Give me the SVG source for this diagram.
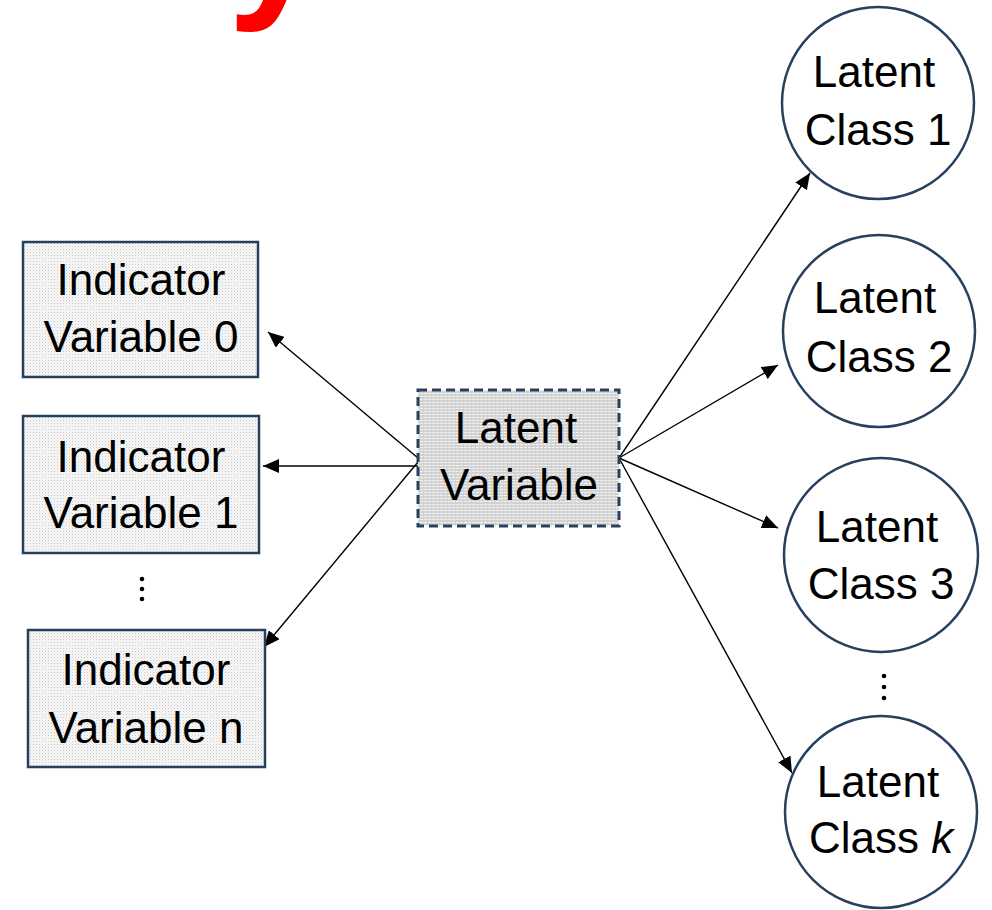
<svg xmlns="http://www.w3.org/2000/svg" width="992" height="910" viewBox="0 0 992 910">
<defs>
<pattern id="dots" width="3" height="3" patternUnits="userSpaceOnUse">
<rect width="3" height="3" fill="#f8f8f8"/>
<rect x="0" y="0" width="1" height="1" fill="#c8c8c8"/>
<rect x="1.5" y="1.5" width="1" height="1" fill="#dcdcdc"/>
</pattern>
<pattern id="grid" width="4" height="3" patternUnits="userSpaceOnUse">
<rect width="4" height="3" fill="#d2d2d2"/>
<rect x="0" y="0" width="3" height="1" fill="#f2f2f2"/>
</pattern>
<marker id="arr" markerUnits="userSpaceOnUse" markerWidth="18" markerHeight="14" refX="16" refY="7" orient="auto">
<path d="M0,0 L16,7 L0,14 Z" fill="#000"/>
</marker>
<style>
.t{font-family:"Liberation Sans",Arial,sans-serif;font-size:44px;fill:#000;text-anchor:middle}
.box{fill:url(#dots);stroke:#27405e;stroke-width:2.5}
.lv{fill:url(#grid);stroke:#27405e;stroke-width:3;stroke-dasharray:9 5}
.cls{fill:#fff;stroke:#27405e;stroke-width:2.5}
.c{stroke:#000;stroke-width:1.4;fill:none;marker-end:url(#arr)}
.dot{fill:#000}
</style>
</defs>
<rect width="992" height="910" fill="#fff"/>
<text x="-153 -27 80 177 228 314 411 446" y="-3" style="font-family:'Liberation Sans',Arial,sans-serif;font-size:170px;font-weight:bold;fill:#ff0000">Analysis</text>

<g id="connectors">
<line class="c" x1="418" y1="458" x2="268" y2="332"/>
<line class="c" x1="418" y1="466" x2="263" y2="466"/>
<line class="c" x1="418" y1="462" x2="264" y2="647"/>
<line class="c" x1="619" y1="458" x2="810" y2="173"/>
<line class="c" x1="619" y1="458" x2="778" y2="365"/>
<line class="c" x1="619" y1="458" x2="778" y2="528"/>
<line class="c" x1="619" y1="458" x2="792" y2="773"/>
</g>

<g id="ind0">
<rect class="box" x="23" y="242" width="235" height="135"/>
<text class="t" x="141" y="295">Indicator</text>
<text class="t" x="141" y="352">Variable 0</text>
</g>
<g id="ind1">
<rect class="box" x="23" y="416" width="236" height="137"/>
<text class="t" x="141" y="472">Indicator</text>
<text class="t" x="141" y="528">Variable 1</text>
</g>
<g id="dotsL">
<circle class="dot" cx="142" cy="579" r="2.3"/>
<circle class="dot" cx="142" cy="589" r="2.3"/>
<circle class="dot" cx="142" cy="599" r="2.3"/>
</g>
<g id="indn">
<rect class="box" x="28" y="630" width="237" height="137"/>
<text class="t" x="146" y="685">Indicator</text>
<text class="t" x="146" y="743">Variable n</text>
</g>

<g id="latent">
<rect class="lv" x="418" y="390" width="201" height="136"/>
<text class="t" x="516" y="443">Latent</text>
<text class="t" x="519" y="500">Variable</text>
</g>

<g id="class1">
<circle class="cls" cx="878" cy="103" r="96"/>
<text class="t" x="874" y="87">Latent</text>
<text class="t" x="878" y="145">Class 1</text>
</g>
<g id="class2">
<circle class="cls" cx="879" cy="331" r="96"/>
<text class="t" x="875" y="313">Latent</text>
<text class="t" x="879" y="372">Class 2</text>
</g>
<g id="class3">
<circle class="cls" cx="881" cy="555" r="97"/>
<text class="t" x="877" y="542">Latent</text>
<text class="t" x="881" y="599">Class 3</text>
</g>
<g id="dotsR">
<circle class="dot" cx="884" cy="676" r="2.3"/>
<circle class="dot" cx="884" cy="687" r="2.3"/>
<circle class="dot" cx="884" cy="698" r="2.3"/>
</g>
<g id="classk">
<circle class="cls" cx="881" cy="812" r="96"/>
<text class="t" x="878" y="797">Latent</text>
<text class="t" x="881" y="853">Class <tspan font-style="italic">k</tspan></text>
</g>
</svg>
